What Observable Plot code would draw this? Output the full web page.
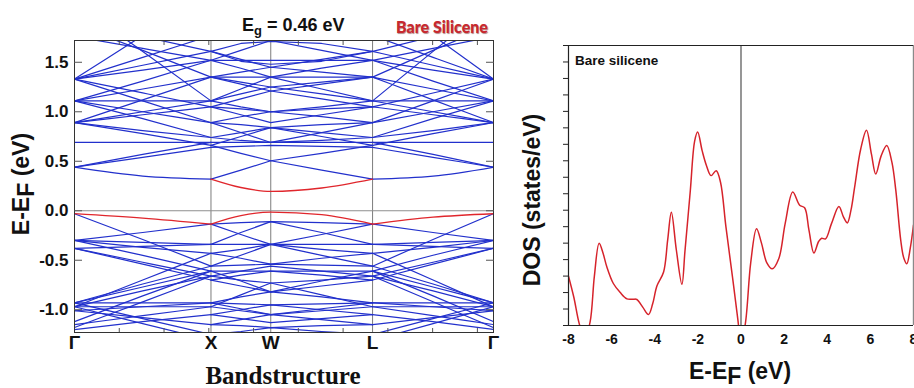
<!DOCTYPE html>
<html>
<head>
<meta charset="utf-8">
<script src="https://cdn.jsdelivr.net/npm/d3@7"></script>
<script src="https://cdn.jsdelivr.net/npm/@observablehq/plot@0.6"></script>
<style>
  body { margin: 0; background: #fff; }
  #fig { position: relative; width: 914px; height: 388px; overflow: hidden;
         font-family: "Liberation Sans", Arial, sans-serif; font-weight: bold; color: #111; }
  #fig svg { position: absolute; top: 0; }
  .lbl { position: absolute; white-space: nowrap; line-height: 1; }
  .low { position: relative; top: 0.22em; }
</style>
</head>
<body>
<div id="fig"></div>
<script>
// ---------- band structure along Γ–X–W–L–Γ ----------
const kLabels = ["Γ", "X", "W", "L", "Γ"];
const kPoints = [0, 1, 1.438, 2.184, 3.07];       // path distance of the symmetry points
const kMinorStep = 0.328;                         // minor tick spacing on the k axis
const energyTicks = [-1, -0.5, 0, 0.5, 1, 1.5];
const energyDomain = [-1.23, 1.72];

// Γ→X segments: [E(Γ), E(midway), E(X)] in eV
const bandsGX = [
  [0.44, 0.35, 0.32], [0.44, 0.54, 0.64], [0.44, 0.57, 0.69], [0.69, 0.69, 0.69],
  [0.89, 0.81, 0.74], [0.89, 0.78, 0.66], [0.89, 0.97, 1.05], [0.89, 1.00, 1.11],
  [0.89, 1.12, 1.35], [1.11, 1.00, 0.89], [1.11, 0.93, 0.74], [1.11, 1.11, 1.11],
  [1.11, 1.23, 1.35], [1.11, 1.31, 1.52], [1.33, 1.42, 1.52], [1.33, 1.47, 1.61],
  [1.33, 1.19, 1.05], [1.33, 1.11, 0.89], [1.33, 1.77, 2.21], [1.33, 1.55, 1.77],
  [1.88, 1.62, 1.35], [1.92, 1.76, 1.61], [1.76, 1.64, 1.52], [2.10, 1.61, 1.11],
  [-0.03, -0.29, -0.56], [-0.30, -0.22, -0.135], [-0.38, -0.36, -0.34], [-0.30, -0.32, -0.34],
  [-0.30, -0.45, -0.61], [-0.38, -0.52, -0.66], [-0.38, -0.54, -0.70], [-0.30, -0.37, -0.43],
  [-0.93, -0.74, -0.56], [-0.93, -0.77, -0.61], [-0.97, -0.81, -0.66], [-0.97, -0.70, -0.43],
  [-0.93, -0.93, -0.93], [-0.97, -0.97, -0.97], [-1.01, -0.97, -0.93], [-1.15, -1.06, -0.97],
  [-0.97, -1.14, -1.31], [-1.01, -1.08, -1.15], [-1.20, -1.12, -1.05], [-0.93, -1.09, -1.25],
  [-1.12, -0.86, -0.61], [-1.18, -0.92, -0.66]
];

// X→W→L segments: [E(X), E(X–W), E(W), E(W–L), E(L)]
const bandsXWL = [
  [0.32, 0.41, 0.505, 0.41, 0.32], [0.66, 0.58, 0.505, 0.58, 0.66], [0.64, 0.65, 0.66, 0.65, 0.64],
  [0.69, 0.69, 0.69, 0.69, 0.69], [0.74, 0.71, 0.69, 0.71, 0.74], [0.74, 0.79, 0.84, 0.79, 0.74],
  [0.89, 0.87, 0.84, 0.87, 0.89], [0.89, 0.95, 1.00, 0.95, 0.89], [1.05, 0.97, 0.89, 0.97, 1.05],
  [1.11, 1.18, 1.25, 1.18, 1.11], [1.05, 1.13, 1.21, 1.13, 1.05], [1.11, 1.05, 1.00, 1.05, 1.11],
  [1.35, 1.30, 1.25, 1.30, 1.35], [1.35, 1.28, 1.21, 1.28, 1.35], [1.35, 1.40, 1.45, 1.40, 1.35],
  [1.52, 1.44, 1.35, 1.44, 1.52], [1.52, 1.62, 1.72, 1.62, 1.52], [1.61, 1.53, 1.45, 1.53, 1.61],
  [1.61, 1.69, 1.71, 1.69, 1.61], [1.61, 1.51, 1.48, 1.51, 1.61],
  [0.89, 0.79, 0.69, 0.79, 0.89], [0.66, 0.75, 0.84, 0.75, 0.66], [1.05, 1.03, 1.00, 1.03, 1.05],
  [1.35, 1.35, 1.35, 1.35, 1.35], [1.11, 1.23, 1.35, 1.23, 1.11], [1.52, 1.52, 1.52, 1.52, 1.52],
  [-0.135, -0.12, -0.11, -0.12, -0.135], [-0.135, -0.24, -0.34, -0.24, -0.135],
  [-0.34, -0.34, -0.34, -0.34, -0.34], [-0.34, -0.22, -0.11, -0.22, -0.34],
  [-0.43, -0.48, -0.54, -0.48, -0.43], [-0.56, -0.45, -0.34, -0.45, -0.56],
  [-0.56, -0.55, -0.54, -0.55, -0.56], [-0.61, -0.61, -0.61, -0.61, -0.61],
  [-0.66, -0.70, -0.73, -0.70, -0.66], [-0.70, -0.65, -0.61, -0.65, -0.70],
  [-0.61, -0.71, -0.82, -0.71, -0.61], [-0.93, -0.87, -0.82, -0.87, -0.93],
  [-0.97, -0.85, -0.73, -0.85, -0.97], [-0.93, -0.94, -0.95, -0.94, -0.93],
  [-0.97, -1.01, -1.05, -1.01, -0.97], [-1.05, -1.00, -0.95, -1.00, -1.05],
  [-1.05, -1.09, -1.13, -1.09, -1.05], [-1.15, -1.10, -1.05, -1.10, -1.15],
  [-1.15, -1.16, -1.18, -1.16, -1.15], [-1.25, -1.22, -1.18, -1.22, -1.25],
  [-0.43, -0.39, -0.34, -0.39, -0.43], [-0.66, -0.61, -0.56, -0.61, -0.66],
  [-0.70, -0.76, -0.82, -0.76, -0.70], [-0.93, -0.99, -1.05, -0.99, -0.93]
];

// L→Γ segments: [E(L), E(midway), E(Γ)]
const bandsLG = [
  [0.32, 0.35, 0.44], [0.64, 0.54, 0.44], [0.69, 0.57, 0.44], [0.69, 0.69, 0.69],
  [0.74, 0.81, 0.89], [0.66, 0.78, 0.89], [1.05, 0.97, 0.89], [1.11, 1.00, 0.89],
  [1.35, 1.12, 0.89], [0.89, 1.00, 1.11], [0.74, 0.93, 1.11], [1.11, 1.11, 1.11],
  [1.35, 1.23, 1.11], [1.52, 1.31, 1.11], [1.52, 1.42, 1.33], [1.61, 1.47, 1.33],
  [1.05, 1.19, 1.33], [0.89, 1.11, 1.33], [2.21, 1.77, 1.33], [1.77, 1.55, 1.33],
  [1.35, 1.62, 1.88], [1.61, 1.76, 1.92], [1.52, 1.64, 1.76], [1.11, 1.61, 2.10],
  [-0.56, -0.29, -0.03], [-0.135, -0.22, -0.30], [-0.34, -0.36, -0.38], [-0.34, -0.32, -0.30],
  [-0.61, -0.45, -0.30], [-0.66, -0.52, -0.38], [-0.70, -0.54, -0.38], [-0.43, -0.37, -0.30],
  [-0.56, -0.74, -0.93], [-0.61, -0.77, -0.93], [-0.66, -0.81, -0.97], [-0.43, -0.70, -0.97],
  [-0.93, -0.93, -0.93], [-0.97, -0.97, -0.97], [-0.93, -0.97, -1.01], [-0.97, -1.06, -1.15],
  [-1.31, -1.14, -0.97], [-1.15, -1.08, -1.01], [-1.05, -1.12, -1.20], [-1.25, -1.09, -0.93],
  [-0.61, -0.86, -1.12], [-0.66, -0.92, -1.18]
];

// band edges: top valence band (all sections) and bottom conduction band (X–W–L)
const vbmGX = [-0.03, -0.075, -0.135];
const vbmXWL = [-0.135, -0.05, -0.013, -0.04, -0.135];
const vbmLG = [-0.135, -0.065, -0.03];
const cbmXWL = [0.32, 0.235, 0.195, 0.23, 0.32];

// ---------- density of states ----------
const dosEnergy = [-8.0, -7.75, -7.5, -7.25, -7.0, -6.8, -6.58, -6.4, -6.22, -5.92, -5.6, -5.29, -5.0, -4.83,
  -4.55, -4.29, -4.1, -3.9, -3.59, -3.4, -3.23, -3.0, -2.74, -2.6, -2.35, -2.15, -2.01, -1.8, -1.6,
  -1.39, -1.15, -0.95, -0.7, -0.4, -0.15, 0.0, 0.2, 0.45, 0.72, 0.95, 1.2, 1.45, 1.75, 2.05, 2.4,
  2.72, 2.95, 3.15, 3.38, 3.6, 3.74, 3.92, 4.2, 4.54, 4.75, 4.93, 5.1, 5.27, 5.55, 5.82, 6.05,
  6.25, 6.5, 6.76, 7.0, 7.18, 7.41, 7.55, 7.69, 7.85, 8.0];
const dosValue = [3.0, 1.7, 0.1, -0.8, 0.2, 3.0, 5.0, 4.4, 3.55, 2.55, 2.0, 1.62, 1.6, 1.58,
  1.1, 0.67, 1.3, 2.4, 3.25, 5.2, 6.88, 4.6, 2.5, 4.5, 8.2, 11.2, 11.75, 10.6, 9.7,
  9.1, 9.4, 8.7, 6.0, 3.0, 0.4, -1.0, 0.1, 3.8, 5.87, 5.0, 3.8, 3.44, 4.05, 6.2, 8.1,
  7.3, 7.15, 5.8, 4.4, 5.1, 5.3, 5.26, 6.2, 7.23, 6.6, 6.23, 7.0, 8.4, 10.7, 11.85, 10.4,
  9.2, 10.3, 10.93, 9.9, 8.2, 5.16, 4.1, 3.75, 4.7, 6.1];
const dosTicksX = [-8, -6, -4, -2, 0, 2, 4, 6, 8];
const dosDomain = [0, 17];

// ---------- build tables ----------
const mid = (a, b) => (a + b) / 2;
const kGX = [kPoints[0], mid(kPoints[0], kPoints[1]), kPoints[1]];
const kXWL = [kPoints[1], mid(kPoints[1], kPoints[2]), kPoints[2], mid(kPoints[2], kPoints[3]), kPoints[3]];
const kLG = [kPoints[3], mid(kPoints[3], kPoints[4]), kPoints[4]];

function rows(sets, ks, tag) {
  return sets.flatMap((vals, i) => vals.map((e, j) => ({band: `${tag}${i}`, k: ks[j], e})));
}
const softBlue = [...rows(bandsGX, kGX, "gx"), ...rows(bandsLG, kLG, "lg")];
const sharpBlue = rows(bandsXWL, kXWL, "xwl");
const redBands = [
  ...rows([vbmGX], kGX, "vg"), ...rows([vbmXWL], kXWL, "vw"),
  ...rows([vbmLG], kLG, "vl"), ...rows([cbmXWL], kXWL, "cw")
];
const kMinor = d3.range(kMinorStep, kPoints[4], kMinorStep);
const dosRows = dosEnergy.map((e, i) => ({e, dos: dosValue[i]}));

const blue = "#2230cc";
const red = "#e0262c";

const bandPlot = Plot.plot({
  width: 500, height: 388,
  marginLeft: 74, marginRight: 7, marginTop: 40, marginBottom: 56,
  x: {domain: [kPoints[0], kPoints[4]], label: null},
  y: {domain: energyDomain, label: null},
  style: {fontFamily: "'Liberation Sans', Arial, sans-serif", fontWeight: "bold", fontSize: "17px",
          color: "#111", background: "transparent"},
  marks: [
    Plot.ruleX(kPoints.slice(1, 4), {stroke: "#7c7c7c", strokeWidth: 1}),
    Plot.ruleY([0], {stroke: "#8e8e8e", strokeWidth: 1}),
    Plot.line(softBlue, {x: "k", y: "e", z: "band", stroke: blue, strokeWidth: 1.2, curve: "monotone-x", clip: true}),
    Plot.line(sharpBlue, {x: "k", y: "e", z: "band", stroke: blue, strokeWidth: 1.2, clip: true}),
    Plot.line(redBands, {x: "k", y: "e", z: "band", stroke: red, strokeWidth: 1.3, curve: "monotone-x", clip: true}),
    Plot.frame({stroke: "#333"}),
    Plot.axisY({anchor: "left", label: null, ticks: energyTicks, tickSize: 0, tickPadding: 6, tickFormat: d => d.toFixed(1)}),
    Plot.axisY({anchor: "left", label: null, ticks: energyTicks, tickSize: 8, dx: 8, stroke: "#555", tickFormat: () => ""}),
    Plot.axisY({anchor: "right", label: null, ticks: energyTicks, tickSize: 8, dx: -8, stroke: "#555", tickFormat: () => ""}),
    Plot.axisX({anchor: "bottom", label: null, ticks: kPoints, tickSize: 0, tickPadding: 3, fontSize: 19,
                tickFormat: d => kLabels[kPoints.indexOf(d)]}),
    Plot.axisX({anchor: "top", label: null, ticks: kMinor, tickSize: 4, dy: 4, stroke: "#555", tickFormat: () => ""}),
    Plot.axisX({anchor: "bottom", label: null, ticks: kMinor, tickSize: 4, dy: -4, stroke: "#555", tickFormat: () => ""})
  ]
});

const dosPlot = Plot.plot({
  width: 414, height: 388,
  marginLeft: 68, marginRight: 1, marginTop: 45, marginBottom: 63,
  x: {domain: [dosTicksX[0], dosTicksX[dosTicksX.length - 1]], label: null},
  y: {domain: dosDomain, label: null},
  style: {fontFamily: "'Liberation Sans', Arial, sans-serif", fontWeight: "bold", fontSize: "14px",
          color: "#111", background: "transparent", overflow: "visible"},
  marks: [
    Plot.ruleX([0], {stroke: "#6a6a6a", strokeWidth: 1.4}),
    Plot.line(dosRows, {x: "e", y: "dos", stroke: "#d6232b", strokeWidth: 1.5, curve: "catmull-rom", clip: true}),
    Plot.ruleX([dosTicksX[dosTicksX.length - 1]], {stroke: "#8a8a8a", strokeWidth: 1.4}),
    Plot.ruleX([dosTicksX[0]], {stroke: "#222", strokeWidth: 1.2}),
    Plot.ruleY([dosDomain[0]], {stroke: "#222", strokeWidth: 1.2}),
    Plot.ruleY([dosDomain[1]], {stroke: "#222", strokeWidth: 1.2}),
    Plot.axisY({anchor: "left", label: null, ticks: d3.range(dosDomain[0], dosDomain[1] + 1), tickSize: 5, stroke: "#222", tickFormat: () => ""}),
    Plot.axisX({anchor: "bottom", label: null, ticks: dosTicksX, tickSize: 0, tickPadding: 9, tickFormat: d => String(d)})
  ]
});

const fig = document.getElementById("fig");
bandPlot.style.left = "0px";
dosPlot.style.left = "500px";
fig.append(bandPlot, dosPlot);

// titles and axis names
const labels = [
  `<div class="lbl" style="left:242px;top:16px;font-size:18px">E<span style="font-size:0.72em;position:relative;top:0.3em">g</span> = 0.46 eV</div>`,
  `<div class="lbl" style="left:396px;top:19px;font-size:16px;font-family:Lato,'Open Sans',sans-serif;font-weight:900;color:#c8282e;text-shadow:0.6px 0.6px 0.8px rgba(90,0,0,0.45)">Bare Silicene</div>`,
  `<div class="lbl" style="left:21px;top:184px;font-size:23px;transform:translate(-50%,-50%) rotate(-90deg)">E-E<span class="low">F</span> (eV)</div>`,
  `<div class="lbl" style="left:283px;top:363px;font-size:25px;font-family:'Liberation Serif','Times New Roman',serif;transform:translateX(-50%)">Bandstructure</div>`,
  `<div class="lbl" style="left:532px;top:200px;font-size:23px;transform:translate(-50%,-50%) rotate(-90deg)">DOS (states/eV)</div>`,
  `<div class="lbl" style="left:740px;top:360px;font-size:23px;transform:translateX(-50%)">E-E<span class="low">F</span> (eV)</div>`,
  `<div class="lbl" style="left:575px;top:54px;font-size:13.5px">Bare silicene</div>`
];
fig.insertAdjacentHTML("beforeend", labels.join(""));
</script>
</body>
</html>
